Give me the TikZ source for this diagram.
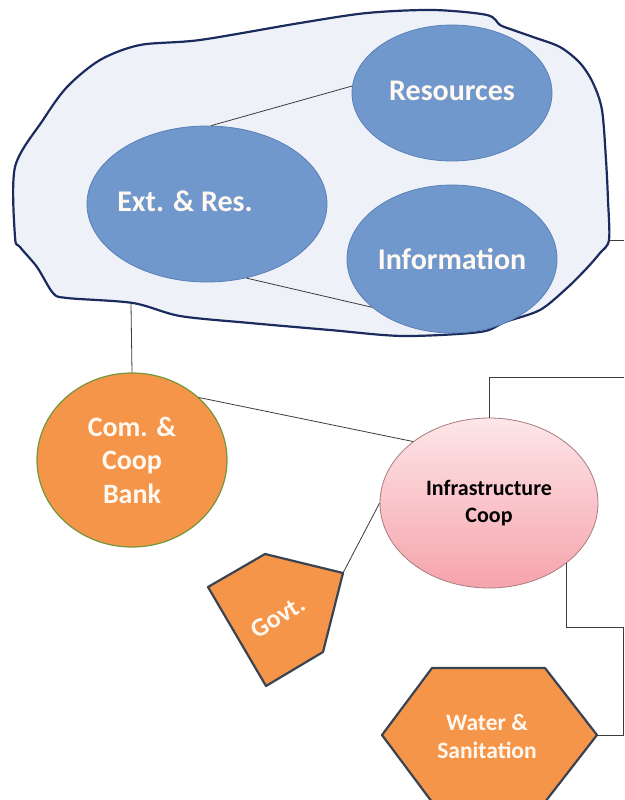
\documentclass[tikz,border=0pt]{standalone}
\usepackage{fontspec}
\setmainfont{Carlito}
\usetikzlibrary{shapes.geometric}
\definecolor{blobfill}{HTML}{EEF2F8}
\definecolor{blobline}{HTML}{1C2B5E}
\definecolor{ellfill}{HTML}{7098CC}
\definecolor{ellline}{HTML}{5A80B8}
\definecolor{orangefill}{HTML}{F5954A}
\definecolor{polyline}{HTML}{3A4352}
\definecolor{bankline}{HTML}{74963C}
\definecolor{pinktop}{HTML}{FDE6E8}
\definecolor{pinkbot}{HTML}{F6A3AC}
\definecolor{pinkline}{HTML}{A87C80}
\definecolor{conn}{HTML}{3C3C3C}
\definecolor{paletext}{HTML}{FFF9F2}
\begin{document}
\begin{tikzpicture}[x=1pt,y=-1pt,
  blob/.style={draw=blobline, fill=blobfill, line width=2.2pt, line join=round},
  blueell/.style={ellipse, draw=ellline, fill=ellfill, line width=0.8pt, inner sep=0pt,
    text=paletext, font=\bfseries\fontsize{30}{36}\selectfont},
  bankcirc/.style={ellipse, draw=bankline, fill=orangefill, line width=1.2pt, inner sep=0pt,
    text=paletext, align=center, font=\bfseries\fontsize{28}{33.5}\selectfont},
  infracirc/.style={ellipse, draw=pinkline, top color=pinktop, bottom color=pinkbot, line width=0.8pt,
    inner sep=0pt, text=black, align=center, font=\bfseries\fontsize{22}{27}\selectfont},
  orangepoly/.style={draw=polyline, fill=orangefill, line width=2.2pt, line join=round},
  polytext/.style={text=paletext, align=center},
  link/.style={draw=conn, line width=0.8pt}
]
\clip (0,0) rectangle (624,800);
\fill[white] (0,0) rectangle (624,800);

% blob
\draw[blob] plot[smooth cycle, tension=0.5] coordinates {(140,45) (200,40) (300,23) (367,13) (433,10) (487,15) (500,25) (513,30) (533,37) (560,47) (580,63) (593,83) (602,110) (606,160) (608,200) (609,240) (600,253) (587,268) (567,288) (540,310) (505,322) (480,332) (403,336) (330,330) (250,323) (180,316) (133,303) (67,298) (53,293) (37,267) (20,247) (15,237) (15,167) (43,120) (67,87) (100,60)};
\coordinate (blobbot) at (131,304);
\coordinate (blobright) at (608,240);
\coordinate (edgeA) at (624,240);

% ellipses
\node[blueell, minimum width=240pt, minimum height=156pt] (ext) at (207,204) {};
\node[text=paletext, font=\bfseries\fontsize{30}{36}\selectfont] (extlabel) at (185,201) {Ext. \& Res.};
\node[blueell, minimum width=200pt, minimum height=136pt] (res) at (452,93) {\raisebox{4pt}{Resources}};
\node[blueell, minimum width=200pt, minimum height=148pt] (info) at (452,259) {Information};

\draw[link] (ext.87) -- (res.176);
\draw[link] (ext.-62) -- (info.211);
\draw[link] (blobright) -- (edgeA);

% bank and infrastructure
\node[bankcirc, minimum width=190pt, minimum height=174pt] (bank) at (132,460) {Com. \&\\Coop\\Bank};
\node[infracirc, minimum width=218pt, minimum height=170pt] (infra) at (489,503) {Infrastructure\\Coop};

\draw[link] (blobbot) -- (bank.north);
\draw[link] (bank.43) -- (infra.141);

\coordinate (edgeB) at (624,377);
\draw[link] (infra.north) |- (edgeB);

% Govt pentagon
\draw[orangepoly] (208,587) -- (265,554) -- (343,573) coordinate (govtip) -- (323,652) -- (266,686) -- cycle;
\node[polytext, rotate=32, font=\bfseries\fontsize{26}{30}\selectfont] (govt) at (278,617) {Govt.};
\draw[link] (govtip) -- (infra.180);

% Water hexagon
\draw[orangepoly] (382,735) -- (432,668) -- (545,668) -- (597,735) coordinate (hexE) -- (545,802) -- (432,802) -- cycle;
\node[polytext, font=\bfseries\fontsize{23.5}{28}\selectfont] (water) at (487,736) {Water \&\\Sanitation};

\coordinate (c1) at (623,627);
\coordinate (c2) at (623,735);
\draw[link] (infra.-38) |- (c1) -- (c2) -- (hexE);
\end{tikzpicture}
\end{document}
